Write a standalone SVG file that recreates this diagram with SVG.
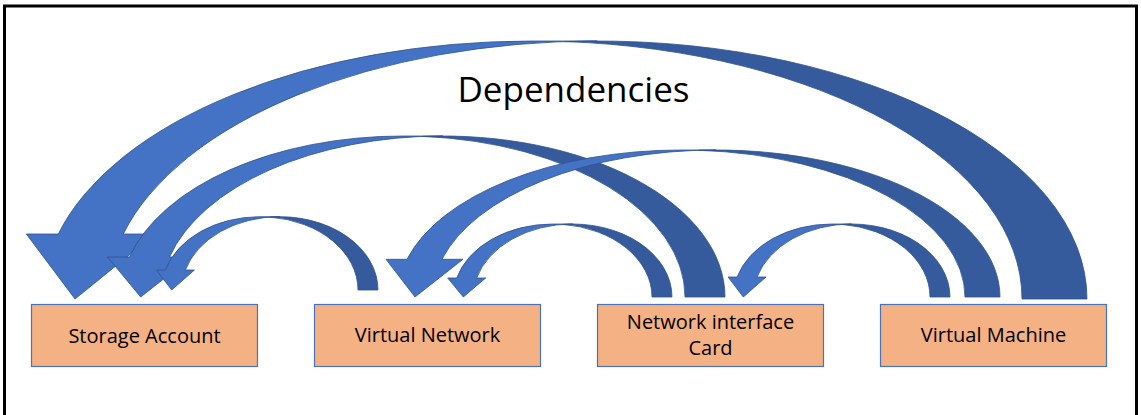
<svg xmlns="http://www.w3.org/2000/svg" width="1141" height="415" viewBox="0 0 1141 415">
<style>
.frame{fill:none;stroke:#000;stroke-width:3}
.box{fill:#F4B183;stroke:#4A72B8;stroke-width:1.2}
.lbl{font-family:"Open Sans","Liberation Sans",sans-serif;font-size:20px;fill:#000;text-anchor:middle}
.title{font-family:"Open Sans","Liberation Sans",sans-serif;font-size:35px;fill:#000;text-anchor:middle}
.lt{fill:#4472C4;stroke:#2F528F;stroke-width:0.8;stroke-linejoin:round}
.dk{fill:#365B9D;stroke:#2F528F;stroke-width:0.8;stroke-linejoin:round}
</style>
<rect class="frame" x="4.5" y="6" width="1132" height="420"/>
<text class="title" x="573.5" y="102">Dependencies</text>
<g id="connectors">
  <g id="vm-to-storage">
    <path class="dk" d="M564.75 41.57 A489.75 258 0 0 1 1022 299 L1087 299 A489.75 258 0 0 0 564.75 41.57 Z"/>
    <path class="lt" d="M75 299 L155.3 234 L123.3 234 A489.75 258 0 0 1 597.25 41 L532.25 41 A489.75 258 0 0 0 58.3 234 L26.3 234 Z"/>
  </g>
  <g id="nic-to-storage">
    <path class="dk" d="M422.85 136.41 A282.15 161 0 0 1 685 297 L725 297 A282.15 161 0 0 0 422.85 136.41 Z"/>
    <path class="lt" d="M140.7 297 L191.55 257 L169.55 257 A282.15 161 0 0 1 442.85 136 L402.85 136 A282.15 161 0 0 0 129.55 257 L107.55 257 Z"/>
  </g>
  <g id="vm-to-vnet">
    <path class="dk" d="M698.75 150.28 A283.75 147 0 0 1 965 297 L1000 297 A283.75 147 0 0 0 698.75 150.28 Z"/>
    <path class="lt" d="M415 297 L463 259.3 L442 259.3 A283.75 147 0 0 1 716.25 150 L681.25 150 A283.75 147 0 0 0 407 259.3 L386 259.3 Z"/>
  </g>
  <g id="vnet-to-storage">
    <path class="dk" d="M269.85 217.08 A98.15 73.3 0 0 1 358 290 L378 290 A98.15 73.3 0 0 0 269.85 217.08 Z"/>
    <path class="lt" d="M171.7 290 L194.4 270 L185.4 270 A98.15 73.3 0 0 1 279.85 216.7 L259.85 216.7 A98.15 73.3 0 0 0 165.4 270 L156.4 270 Z"/>
  </g>
  <g id="nic-to-vnet">
    <path class="dk" d="M562.65 224.37 A99.35 73 0 0 1 652 297 L672 297 A99.35 73 0 0 0 562.65 224.37 Z"/>
    <path class="lt" d="M463.3 297 L485.7 278 L476.7 278 A99.35 73 0 0 1 572.65 224 L552.65 224 A99.35 73 0 0 0 456.7 278 L447.7 278 Z"/>
  </g>
  <g id="vm-to-nic">
    <path class="dk" d="M841.65 224.38 A98.35 73 0 0 1 930 297 L950 297 A98.35 73 0 0 0 841.65 224.38 Z"/>
    <path class="lt" d="M743.3 297 L766.1 277 L757.1 277 A98.35 73 0 0 1 851.65 224 L831.65 224 A98.35 73 0 0 0 737.1 277 L728.1 277 Z"/>
  </g>
</g>
<g id="storage-account">
  <rect class="box" x="31.5" y="304.5" width="226" height="62"/>
  <text class="lbl" x="144.5" y="342.5">Storage Account</text>
</g>
<g id="virtual-network">
  <rect class="box" x="314.5" y="304.5" width="226" height="62"/>
  <text class="lbl" x="427.5" y="342">Virtual Network</text>
</g>
<g id="network-interface-card">
  <rect class="box" x="597.5" y="304.5" width="226" height="62"/>
  <text class="lbl" x="710.5" y="328.5">Network interface</text>
  <text class="lbl" x="710.5" y="355">Card</text>
</g>
<g id="virtual-machine">
  <rect class="box" x="880.5" y="304.5" width="226" height="62"/>
  <text class="lbl" x="993.5" y="342">Virtual Machine</text>
</g>
</svg>
